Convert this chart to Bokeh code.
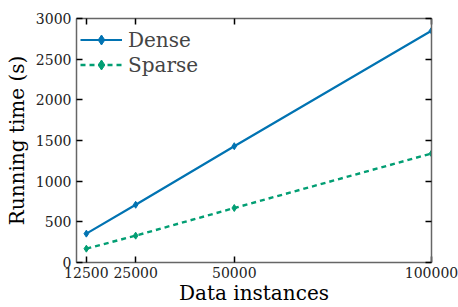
from bokeh.plotting import figure
from bokeh.models import LinearAxis, FixedTicker, Range1d, Legend, BasicTickFormatter, CustomJSTickFormatter
from bokeh.embed import file_html
from bokeh.resources import INLINE

instances = [12500, 25000, 50000, 100000]
dense = [355, 710, 1430, 2850]
sparse = [170, 330, 670, 1340]
x_ticks = [12500, 25000, 50000, 100000]
y_ticks = [0, 500, 1000, 1500, 2000, 2500, 3000]

FONT = "DejaVu Serif"
BLUE = "#0173B2"
GREEN = "#029E73"

p = figure(width=458, height=307, output_backend="svg", toolbar_location=None,
           x_range=Range1d(10000, 100000), y_range=Range1d(0, 3000),
           min_border_left=76, min_border_right=27, min_border_top=18, min_border_bottom=45)
p.grid.visible = False
p.outline_line_color = None

r1 = p.line(instances, dense, line_color=BLUE, line_width=2.2)
s1 = p.scatter(instances, dense, marker="diamond", size=7, color=BLUE)
r2 = p.line(instances, sparse, line_color=GREEN, line_width=2.4, line_dash="5 4")
s2 = p.scatter(instances, sparse, marker="diamond", size=7, color=GREEN)

legend = Legend(items=[("Dense", [r1, s1]), ("Sparse", [r2, s2])], location=(4, 185),
                border_line_color=None, background_fill_alpha=0,
                label_text_font=FONT, label_text_font_size="20px",
                glyph_width=42, glyph_height=25, spacing=0, padding=6, margin=0,
                label_standoff=6, label_height=25)
p.add_layout(legend, "center")

def style(ax):
    ax.axis_line_color = "#666666"
    ax.axis_line_width = 1.5
    ax.major_tick_line_color = "black"
    ax.major_tick_line_width = 1.5
    ax.major_tick_in = 6
    ax.major_tick_out = 0
    ax.minor_tick_line_color = None
    ax.major_label_text_font = FONT
    ax.major_label_text_font_size = "14px"
    ax.major_label_text_color = "#222222"
    ax.axis_label_text_font = FONT
    ax.axis_label_text_font_size = "20px"
    ax.axis_label_text_font_style = "normal"
    ax.axis_label_text_color = "black"

p.xaxis.ticker = FixedTicker(ticks=x_ticks)
p.yaxis.ticker = FixedTicker(ticks=y_ticks)
p.xaxis.formatter = BasicTickFormatter(use_scientific=False)
p.yaxis.formatter = BasicTickFormatter(use_scientific=False)
p.xaxis.axis_label = "Data instances"
p.yaxis.axis_label = "Running time (s)"
style(p.xaxis[0])
style(p.yaxis[0])
p.xaxis.major_label_standoff = 4
p.yaxis.major_label_standoff = 5
p.xaxis.axis_label_standoff = 0
p.yaxis.axis_label_standoff = 4

top = LinearAxis(ticker=FixedTicker(ticks=x_ticks))
right = LinearAxis(ticker=FixedTicker(ticks=y_ticks))
style(top)
style(right)
for ax in (top, right):
    ax.major_label_text_font_size = "0px"
    ax.formatter = CustomJSTickFormatter(code="return ''")
    ax.major_label_standoff = 0
p.add_layout(top, "above")
p.add_layout(right, "right")

open("out.html", "w").write(file_html(p, INLINE))
